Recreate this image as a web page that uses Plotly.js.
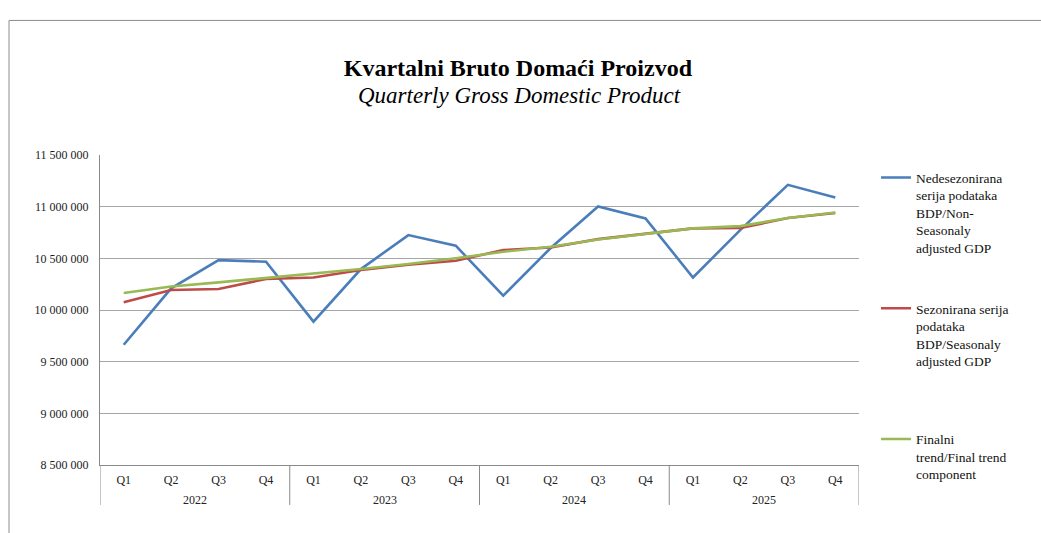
<!DOCTYPE html>
<html>
<head>
<meta charset="utf-8">
<script src="https://cdn.plot.ly/plotly-3.0.1.min.js"></script>
<style>html,body{margin:0;padding:0;background:#fff;}#chart{width:1041px;height:533px;}</style>
</head>
<body>
<div id="chart"></div>
<script>
const years = ['2022','2023','2024','2025'];
const quarters = ['Q1','Q2','Q3','Q4'];
const nonSeasonal = [9664000,10210000,10483000,10467000, 9887000,10396000,10725000,10622000, 10138000,10600000,11002000,10886000, 10315000,10775000,11211000,11089000];
const seasonal    = [10074000,10193000,10203000,10300000, 10315000,10387000,10438000,10477000, 10580000,10605000,10686000,10735000, 10790000,10793000,10890000,10938000];
const trend       = [10164000,10228000,10267000,10310000, 10348000,10396000,10445000,10500000, 10564000,10612000,10683000,10735000, 10790000,10812000,10890000,10943000];
const yTickVals = [8500000,9000000,9500000,10000000,10500000,11000000,11500000];
const yTickText = ['8 500 000','9 000 000','9 500 000','10 000 000','10 500 000','11 000 000','11 500 000'];
const seriesNames = [
  'Nedesezonirana<br>serija podataka<br>BDP/Non-<br>Seasonaly<br>adjusted GDP',
  'Sezonirana serija<br>podataka<br>BDP/Seasonaly<br>adjusted GDP<br>&nbsp;',
  'Finalni<br>trend/Final trend<br>component'
];
const colors = ['#4A7EBB','#BE4B48','#98B954'];
const titleMain = 'Kvartalni Bruto Domaći Proizvod';
const titleSub = 'Quarterly Gross Domestic Product';

// category labels "2022 Q1" ... built from years x quarters
const cats = [], catQ = [];
years.forEach(y => quarters.forEach(q => { cats.push(y + ' ' + q); catQ.push(q); }));
const nQ = quarters.length, nCat = cats.length;
// year-group boundaries and centres on the category axis scale
const groupEdges = years.map((y, i) => i * nQ - 0.5).concat([nCat - 0.5]);
const groupMids = years.map((y, i) => i * nQ + (nQ - 1) / 2);

const series = [nonSeasonal, seasonal, trend];
const data = series.map((vals, i) => ({
  type: 'scatter', mode: 'lines', x: cats, y: vals, name: seriesNames[i],
  legendgroup: 'g' + i,
  line: {color: colors[i], width: 2.6}
}));

const serif = 'Liberation Serif, Times New Roman, serif';
const axisGrey = '#8a8a8a';
const plotH = 310.3;   // plot height in px (533 - 155 - 68 approx.)

const dividerShapes = groupEdges.map(e => ({
  type: 'line', xref: 'x', yref: 'paper', x0: e, x1: e, y0: 0, y1: -40 / plotH,
  line: {color: axisGrey, width: 1}, layer: 'above'
}));
const yearLabels = years.map((y, i) => ({
  text: y, showarrow: false, xref: 'x', yref: 'paper',
  x: groupMids[i], y: -35 / plotH, xanchor: 'center', yanchor: 'middle',
  font: {family: serif, size: 12, color: '#222'}
}));

const layout = {
  width: 1041, height: 533,
  margin: {l: 100, r: 182, t: 155, b: 68},
  paper_bgcolor: '#fff', plot_bgcolor: '#fff',
  font: {family: serif, color: '#222', size: 12},
  title: {
    text: '<b>' + titleMain + '</b>',
    font: {family: serif, size: 24, color: '#000'},
    x: 0.4975, xref: 'container', xanchor: 'center',
    y: 1 - 68/533, yref: 'container', yanchor: 'middle'
  },
  annotations: [{
    text: '<i>' + titleSub + '</i>', showarrow: false,
    xref: 'paper', yref: 'paper', x: (519 - 100) / 759, y: (465 - 95) / plotH,
    xanchor: 'center', yanchor: 'middle',
    font: {family: serif, size: 23, color: '#000'}
  }].concat(yearLabels),
  xaxis: {
    type: 'category', categoryorder: 'array', categoryarray: cats,
    range: [-0.5, nCat - 0.5],
    tickvals: cats, ticktext: catQ,
    showgrid: false, zeroline: false,
    showline: true, linecolor: axisGrey, linewidth: 1,
    ticks: '', ticklabelstandoff: 4,
    tickfont: {family: serif, size: 12, color: '#222'}
  },
  yaxis: {
    range: [8500000, 11500000],
    tickvals: yTickVals, ticktext: yTickText,
    showgrid: true, gridcolor: '#a6a6a6', gridwidth: 1,
    zeroline: false,
    showline: true, linecolor: axisGrey, linewidth: 1,
    ticks: '', ticklabelstandoff: 8,
    tickfont: {family: serif, size: 12, color: '#222'}
  },
  showlegend: true,
  legend: {
    x: (876 - 100) / 759, xanchor: 'left', y: (465 - 162) / plotH, yanchor: 'top',
    valign: 'top', tracegroupgap: 40, maxheight: 450,
    font: {family: serif, size: 13.5, color: '#111'},
    bgcolor: 'rgba(0,0,0,0)'
  },
  shapes: [{
    type: 'rect', xref: 'paper', yref: 'paper',
    x0: (9 - 100) / 759, x1: 1.4, y0: -0.3, y1: (465 - 20) / plotH,
    line: {color: '#8c8c8c', width: 1}, fillcolor: 'rgba(0,0,0,0)', layer: 'below'
  }].concat(dividerShapes)
};

Plotly.newPlot('chart', data, layout, {displayModeBar: false, staticPlot: true});
</script>
</body>
</html>
